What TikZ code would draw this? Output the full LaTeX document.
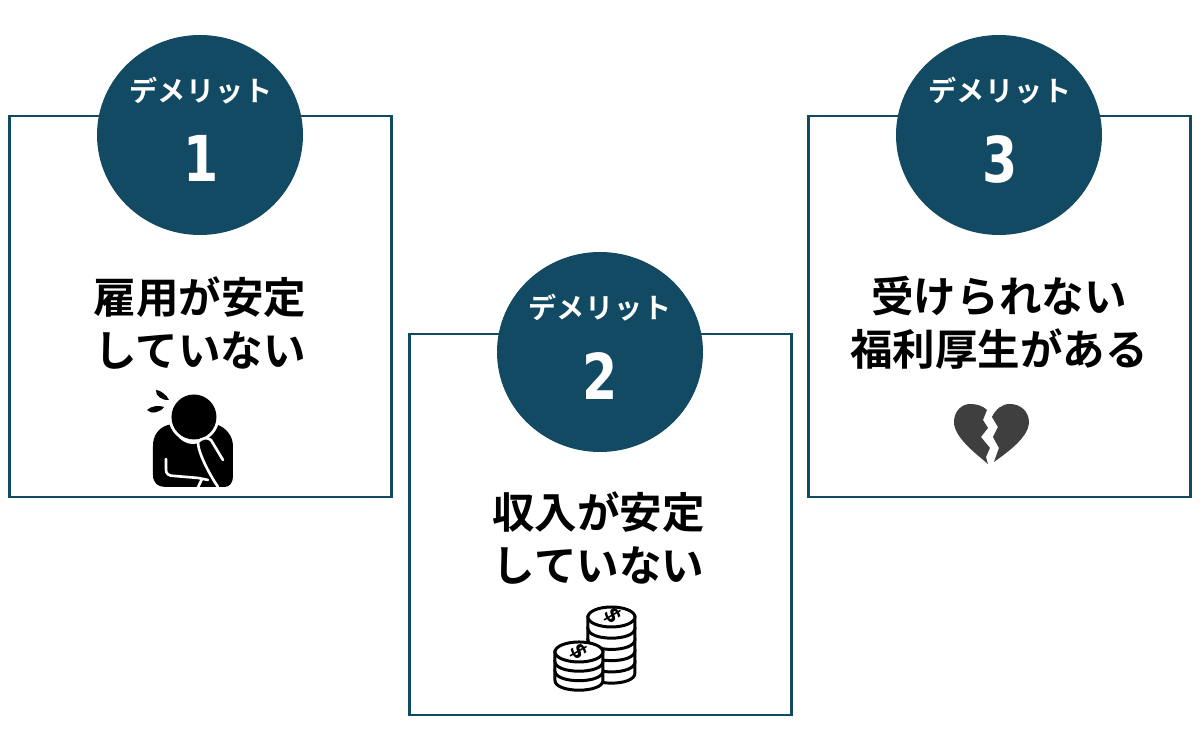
\documentclass[tikz,border=0pt]{standalone}
\usepackage{fontspec}
\setmainfont{Noto Sans CJK JP}[BoldFont={Noto Sans CJK JP Bold}]
\newfontfamily\headfont[LetterSpace=3]{Noto Sans CJK JP Bold}
\newfontfamily\numfont{DejaVu Sans Bold}
\usetikzlibrary{shapes.geometric, positioning}
\definecolor{teal1}{HTML}{124A63}
\definecolor{heartgray}{HTML}{3F3F3F}
\tikzset{
    panel/.style={draw=teal1,line width=0.75pt,fill=white,minimum width=3.825cm,minimum height=3.81cm},
    badge/.style={ellipse,fill=teal1,minimum width=2.06cm,minimum height=2cm,inner sep=0pt},
    headlabel/.style={text=white,font=\fontsize{8}{10}\headfont},
    numlabel/.style={text=white,font=\fontsize{18}{20}\numfont,xscale=0.8},
    bodylabel/.style={align=center,font=\fontsize{12.1}{15}\selectfont\bfseries},
    gapline/.style={white,line width=0.75pt,line cap=round,line join=round},
    coinline/.style={draw=black,fill=white,line width=0.85pt},
    coinmark/.style={font=\fontsize{6}{6}\numfont,rotate=-60,inner sep=0pt}
}
\begin{document}
\begin{tikzpicture}
    \useasboundingbox (0,0) rectangle (12,7.33);

    % Panels
    \node[panel] (panelA) at (2.005,4.265) {};
    \node[panel] (panelB) at (6.005,2.085) {};
    \node[panel] (panelC) at (9.995,4.265) {};

    % Badges
    \node[badge] (badgeA) at (2,5.98) {};
    \node[badge] (badgeB) at (6,3.81) {};
    \node[badge] (badgeC) at (9.99,5.98) {};

    \node[headlabel] (headA) at (2.01,6.42) {デメリット};
    \node[headlabel] (headB) at (6.00,4.25) {デメリット};
    \node[headlabel] (headC) at (10.00,6.42) {デメリット};
    \node[numlabel,below=0.06cm of headA] (numA) {1};
    \node[numlabel,below=0.06cm of headB] (numB) {2};
    \node[numlabel,below=0.06cm of headC] (numC) {3};

    % Body text
    \node[bodylabel] (bodyA) at (2.00,4.10) {雇用が安定\\していない};
    \node[bodylabel] (bodyB) at (5.985,1.95) {収入が安定\\していない};
    \node[bodylabel] (bodyC) at (9.99,4.10) {受けられない\\福利厚生がある};

    % Person holding head
    \begin{scope}[shift={(1.30,3.53)},x=0.01cm,y=-0.01cm]
        \fill[black] (38,45) .. controls (28,48) and (23,56) .. (23,66) -- (23,95)
            .. controls (23,103) and (28,107) .. (35,107) -- (95,107)
            .. controls (100,107) and (103,102) .. (103,97) -- (103,66)
            .. controls (103,56) and (96,48) .. (88,45) -- (64,40) -- cycle;
        \fill[white] (64,37) circle[radius=25.5];
        \fill[black] (64,37) circle[radius=22.5];
        \fill[black] (70,60) -- (82,58) -- (95,80) -- (92,107) -- (84,107) -- (68,70) -- cycle;
        \draw[gapline] (50,57) .. controls (55,62) and (62,64) .. (68,62)
            .. controls (72,58) and (77,57) .. (81,60) -- (93,80);
        \draw[gapline] (68,62) .. controls (68,72) and (78,92) .. (88,107);
        \draw[gapline] (36,79) -- (36,90) .. controls (36,94) and (39,96) .. (44,96) -- (68,98) -- (78,100);
        \draw[gapline] (68,107.5) -- (72,99);
        \fill[black] (26,10) .. controls (30,10) and (37,15) .. (39,20) .. controls (33,21) and (25,16) .. (26,10) -- cycle;
        \fill[black] (17,30) .. controls (21,26) and (29,25) .. (34,27) .. controls (31,32) and (21,35) .. (17,30) -- cycle;
    \end{scope}

    % Coin stacks
    \begin{scope}[shift={(5.30,1.38)},x=0.01cm,y=-0.01cm]
        \foreach \yy in {67,55.75,44.5,33.25,22} {
            \draw[coinline] (58,\yy) -- (58,\yy+11.25) .. controls (58,\yy+24.5) and (105,\yy+24.5) .. (105,\yy+11.25) -- (105,\yy) -- cycle;
        }
        \draw[coinline] (81.5,22) ellipse[x radius=23.5,y radius=10];
        \foreach \yy in {76,66.5,57} {
            \draw[coinline] (25,\yy) -- (25,\yy+9.5) .. controls (25,\yy+22.5) and (73,\yy+22.5) .. (73,\yy+9.5) -- (73,\yy) -- cycle;
        }
        \draw[coinline] (49,57) ellipse[x radius=24,y radius=10];
        \node[coinmark] (coinA) at (83,21) {\$};
        \node[coinmark] (coinB) at (49,57) {\$};
    \end{scope}

    % Broken heart
    \begin{scope}[shift={(9.40,3.38)},x=0.01cm,y=-0.01cm]
        \fill[heartgray] (48,69) .. controls (35,58) and (14,42) .. (14,27)
            .. controls (14,16) and (22,9) .. (30,9) .. controls (37,9) and (43,11) .. (47,15)
            -- (43,25) -- (48,33) -- (41,42) -- (50,53) -- (46,62) -- cycle;
        \fill[heartgray] (54,67) -- (59,53) -- (53,42) -- (58,32) -- (52,22)
            .. controls (56,14) and (62,9) .. (70,9) .. controls (81,9) and (89,17) .. (89,27)
            .. controls (89,42) and (68,57) .. (54,67) -- cycle;
    \end{scope}
\end{tikzpicture}
\end{document}
